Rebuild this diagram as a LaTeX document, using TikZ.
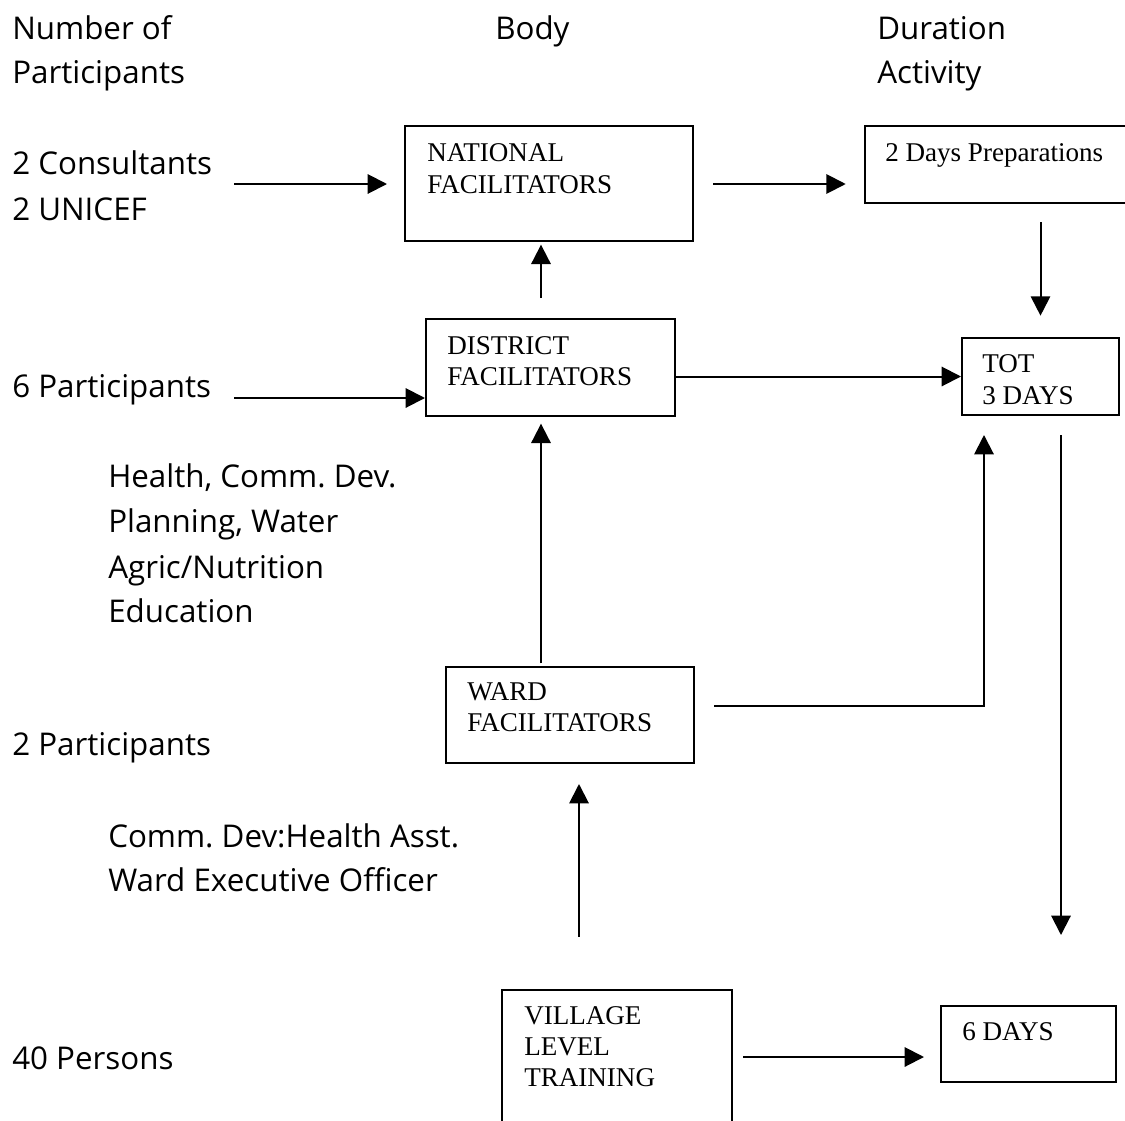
\documentclass[tikz,border=0pt]{standalone}
\usepackage{fontspec}
\setmainfont{Liberation Serif}
\newfontfamily\comicf{Open Sans}
\usetikzlibrary{arrows.meta,fit}
\frenchspacing
\begin{document}
\begin{tikzpicture}[x=0.75pt,y=-0.75pt,
  box/.style={draw,line width=1.5pt,inner sep=0pt},
  openbox/.style={inner sep=0pt},
  lbl/.style={anchor=base west,inner sep=0pt,font=\comicf\fontsize{23.5}{28}\selectfont},
  btxt/.style={anchor=base west,inner sep=0pt,font=\fontsize{20.3}{24}\selectfont},
  arr/.style={line width=1.5pt,-{Triangle[length=14.5pt,width=14.5pt]}},
  ln/.style={line width=1.5pt}]
\useasboundingbox (0,0) rectangle (1125,1121);

% column headings
\node[lbl] (h1a) at (12,39) {Number of};
\node[lbl] (h1b) at (12,83) {Participants};
\node[lbl] (h2) at (495,39) {Body};
\node[lbl] (h3a) at (877,39) {Duration};
\node[lbl] (h3b) at (877,83) {Activity};

% left labels
\node[lbl] (consA) at (12,174) {2 Consultants};
\node[lbl] (consB) at (12,220) {2 UNICEF};
\node[lbl] (six) at (12,397) {6 Participants};
\node[lbl] (dA) at (108,487) {Health, Comm. Dev.};
\node[lbl] (dB) at (108,532) {Planning, Water};
\node[lbl] (dC) at (108,578) {Agric/Nutrition};
\node[lbl] (dD) at (108,622) {Education};
\node[lbl] (two) at (12,755) {2 Participants};
\node[lbl] (wA) at (108,847) {Comm. Dev:Health Asst.};
\node[lbl] (wB) at (108,891) {Ward Executive Officer};
\node[lbl] (forty) at (12,1069) {40 Persons};

% boxes
\node[box,fit={(405,126) (693,241)}] (nat) {};
\node[btxt] (natA) at (427,161) {NATIONAL};
\node[btxt] (natB) at (427,193) {FACILITATORS};

\node[openbox,fit={(865,126) (1125,203)}] (prep) {};
\draw[ln] (1126,126) -- (865,126) -- (865,203) -- (1126,203);
\node[btxt] (prepA) at (885,161) {2 Days Preparations};

\node[box,fit={(426,319) (675,416)}] (dist) {};
\node[btxt] (distA) at (447,354) {DISTRICT};
\node[btxt] (distB) at (447,385) {FACILITATORS};

\node[box,fit={(962,338) (1119,415)}] (tot) {};
\node[btxt] (totA) at (982,372) {TOT};
\node[btxt] (totB) at (982,404) {3 DAYS};

\node[box,fit={(446,667) (694,763)}] (ward) {};
\node[btxt] (wardA) at (467,700) {WARD};
\node[btxt] (wardB) at (467,731) {FACILITATORS};

\node[openbox,fit={(502,990) (732,1121)}] (vil) {};
\draw[ln] (502,1122) -- (502,990) -- (732,990) -- (732,1122);
\node[btxt] (vilA) at (524,1024) {VILLAGE};
\node[btxt] (vilB) at (524,1055) {LEVEL};
\node[btxt] (vilC) at (524,1086) {TRAINING};

\node[box,fit={(941,1006) (1116,1082)}] (sixd) {};
\node[btxt] (sixdA) at (962,1040) {6 DAYS};

% connector helper coordinates
\coordinate (c1) at (234,184);
\coordinate (c6) at (234,398);
\coordinate (xa) at (541,0);
\coordinate (x9) at (579,0);
\coordinate (w7) at (714,706);
\coordinate (x7) at (984,0);
\coordinate (x8) at (1061,0);
\coordinate (d8) at (1061,935);
\coordinate (a10) at (743,1057);

% connectors
\draw[arr,shorten >=12.75pt] (c1) -- (c1 -| nat.west);
\draw[arr,shorten <=14.25pt,shorten >=14.25pt] (c1 -| nat.east) -- (c1 -| prep.west);
\draw[arr,shorten <=14.25pt,shorten >=16pt] (tot.north |- prep.south) -- (tot.north);
\draw[arr,shorten <=15pt,shorten >=2pt] (xa |- dist.north) -- (xa |- nat.south);
\draw[arr] (c6) -- (c6 -| dist.west);
\draw[arr] (tot.west -| dist.east) -- (tot.west);
\draw[arr,shorten <=2pt,shorten >=5pt] (xa |- ward.north) -- (xa |- dist.south);
\draw[arr,shorten >=14.25pt] (w7) -| (x7 |- tot.south);
\draw[arr,shorten <=14.25pt] (x8 |- tot.south) -- (d8);
\draw[arr,shorten <=39.75pt,shorten >=15pt] (x9 |- vil.north) -- (x9 |- ward.south);
\draw[arr,shorten >=12pt] (a10) -- (a10 -| sixd.west);
\end{tikzpicture}
\end{document}
